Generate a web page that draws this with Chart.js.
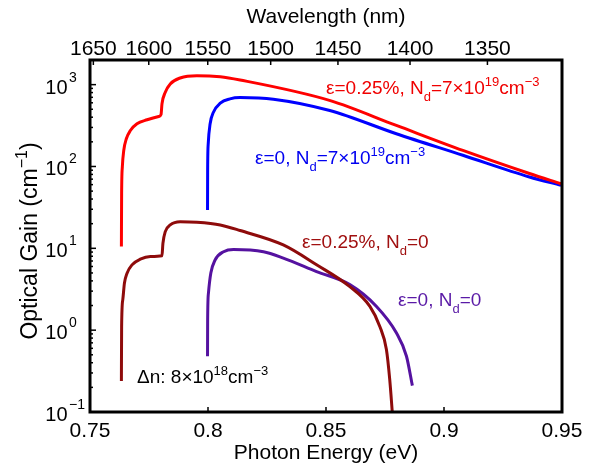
<!DOCTYPE html>
<html lang="en">
<head>
<meta charset="UTF-8">
<title>Optical Gain vs Photon Energy</title>
<style>
  html, body { margin: 0; padding: 0; background: #fff; }
  #wrap { width: 600px; height: 470px; }
</style>
</head>
<body>
<div id="wrap"><canvas id="gain" width="600" height="470"></canvas></div>
<script src="https://cdn.jsdelivr.net/npm/chart.js"></script>
<script>
// photon energy (eV) / optical gain (cm^-1)
const energyStrainDoped = [0.7633, 0.7634, 0.7637, 0.7643, 0.7654, 0.7671, 0.7699, 0.7742, 0.7791, 0.7801, 0.7805, 0.7819, 0.7840, 0.7882, 0.7953, 0.8052, 0.8136, 0.8518, 0.8798, 0.9080, 0.9362, 0.9496];
const gainStrainDoped   = [10.5, 47, 98.6, 157, 218, 275, 333, 372, 408, 431, 582, 807, 1019, 1206, 1288, 1250, 1140, 638, 317, 157, 82, 61.5];

const energyDoped = [0.7998, 0.79985, 0.8001, 0.8009, 0.8023, 0.8052, 0.8093, 0.8136, 0.8277, 0.8516, 0.8798, 0.9080, 0.9362, 0.9496];
const gainDoped   = [29.3, 90, 190, 333, 460, 593, 670, 695, 665, 483, 251, 137, 74.5, 59];

const energyStrain = [0.7633, 0.7634, 0.7639, 0.7646, 0.7657, 0.7678, 0.7713, 0.7756, 0.7805, 0.7809, 0.7819, 0.7840, 0.7882, 0.7953, 0.8052, 0.8136, 0.8319, 0.8460, 0.8601, 0.8686, 0.8728, 0.8756, 0.8770, 0.8782];
const gainStrain   = [0.239, 1.11, 2.36, 3.76, 4.97, 6.28, 7.36, 7.93, 8.1, 11.5, 16, 19.3, 21.1, 20.8, 19.3, 16.5, 11, 6.3, 3.4, 1.95, 1.11, 0.58, 0.25, 0.09];

const energyUndoped = [0.7998, 0.79985, 0.8002, 0.8012, 0.8030, 0.8066, 0.8108, 0.8235, 0.8319, 0.8460, 0.8601, 0.8714, 0.8798, 0.8841, 0.8866];
const gainUndoped   = [0.48, 1.35, 2.85, 4.98, 7.2, 9.1, 9.7, 9.1, 7.6, 5.2, 3.6, 1.95, 0.93, 0.48, 0.21];

const energyTicks = [0.75, 0.8, 0.85, 0.9, 0.95];
const wavelengthTicks = [1650, 1600, 1550, 1500, 1450, 1400, 1350];
const gainDecades = [0.1, 1, 10, 100, 1000];
const HC = 1239.84; // eV*nm

const FONT = '"Liberation Sans", Arial, Helvetica, sans-serif';

function series(xs, ys, color) {
    return {
        data: xs.map((e, i) => ({ x: e, y: ys[i] })),
        borderColor: color,
        borderWidth: 3,
        pointRadius: 0,
        cubicInterpolationMode: 'monotone',
        fill: false,
        clip: 0
    };
}

// draws text with sub/superscript pieces, returns end x
function richText(ctx, x, y, parts, size, color, dry) {
    ctx.fillStyle = color;
    ctx.textBaseline = 'alphabetic';
    ctx.textAlign = 'left';
    parts.forEach(p => {
        const kind = p[1];
        const fs = kind ? Math.round(size * 0.68) : size;
        const dy = kind === 'sup' ? -size * 0.42 : kind === 'sub' ? size * 0.38 : 0;
        ctx.font = fs + 'px ' + FONT;
        if (!dry) ctx.fillText(p[0], x, y + dy);
        x += ctx.measureText(p[0]).width;
    });
    return x;
}

const curveLabels = [
    { x: 326, y: 93.5, color: '#f00000', parts: [['ε=0.25%, N'], ['d', 'sub'], ['=7×10'], ['19', 'sup'], ['cm'], ['−3', 'sup']] },
    { x: 255, y: 163.5, color: '#0000f0', parts: [['ε=0, N'], ['d', 'sub'], ['=7×10'], ['19', 'sup'], ['cm'], ['−3', 'sup']] },
    { x: 302, y: 248, color: '#a01010', parts: [['ε=0.25%, N'], ['d', 'sub'], ['=0']] },
    { x: 398, y: 306, color: '#5a1aa6', parts: [['ε=0, N'], ['d', 'sub'], ['=0']] },
    { x: 137, y: 382.5, color: '#000000', parts: [['Δn: 8×10'], ['18', 'sup'], ['cm'], ['−3', 'sup']] }
];

const decorations = {
    id: 'decorations',
    afterDatasetsDraw(chart) {
        const { ctx, chartArea: a, scales } = chart;
        const xs = scales.x, ys = scales.y;
        ctx.save();
        ctx.strokeStyle = '#000';
        ctx.lineCap = 'butt';

        const seg = (x1, y1, x2, y2) => { ctx.beginPath(); ctx.moveTo(x1, y1); ctx.lineTo(x2, y2); ctx.stroke(); };

        ctx.lineWidth = 1.5;
        // bottom energy ticks, pointing in
        energyTicks.forEach(e => { const px = xs.getPixelForValue(e); seg(px, a.bottom, px, a.bottom - 5); });
        // top wavelength ticks
        wavelengthTicks.forEach(w => { const px = xs.getPixelForValue(HC / w); seg(px, a.top, px, a.top + 5); });
        // left log ticks, major and minor
        gainDecades.forEach(d => {
            const py = ys.getPixelForValue(d);
            seg(a.left, py, a.left + 6, py);
            for (let k = 2; k <= 9; k++) {
                const v = d * k;
                if (v > ys.max) break;
                const pm = ys.getPixelForValue(v);
                seg(a.left, pm, a.left + 3, pm);
            }
        });

        // frame
        ctx.lineWidth = 3;
        ctx.strokeRect(a.left, a.top, a.right - a.left, a.bottom - a.top);

        // y tick labels 10^n
        ctx.fillStyle = '#000';
        gainDecades.forEach(d => {
            const py = ys.getPixelForValue(d);
            const n = Math.round(Math.log10(d));
            ctx.textBaseline = 'alphabetic';
            ctx.font = '20px ' + FONT;
            ctx.textAlign = 'right';
            ctx.fillText('10', 67.5, py + 9);
            ctx.font = '14px ' + FONT;
            ctx.textAlign = 'left';
            ctx.fillText(n < 0 ? '−' + (-n) : String(n), 69, py - 3);
        });

        // y axis title
        const title = [['Optical Gain (cm'], ['−1', 'sup'], [')']];
        ctx.save();
        ctx.translate(37, 241);
        ctx.rotate(-Math.PI / 2);
        const w = richText(ctx, 0, 0, title, 23, '#000', true);
        richText(ctx, -w / 2, 0, title, 23, '#000');
        ctx.restore();

        // curve labels
        curveLabels.forEach(l => richText(ctx, l.x, l.y, l.parts, 19, l.color));
        ctx.restore();
    }
};

new Chart(document.getElementById('gain'), {
    type: 'line',
    data: {
        datasets: [
            series(energyStrainDoped, gainStrainDoped, '#ff0000'),
            series(energyDoped, gainDoped, '#0000ff'),
            series(energyStrain, gainStrain, '#8e0b0b'),
            series(energyUndoped, gainUndoped, '#5512a0')
        ]
    },
    options: {
        responsive: false,
        animation: false,
        layout: { padding: { left: 90, right: 38, top: 0, bottom: 0 } },
        plugins: { legend: { display: false }, tooltip: { enabled: false } },
        scales: {
            x: {
                type: 'linear',
                position: 'bottom',
                min: 0.75,
                max: 0.95,
                afterBuildTicks: s => { s.ticks = energyTicks.map(v => ({ value: v })); },
                afterFit: s => { s.height = 58; },
                ticks: {
                    autoSkip: false, maxRotation: 0, padding: 9, color: '#000',
                    font: { family: FONT, size: 21, lineHeight: 1 },
                    callback: v => String(Math.round(v * 100) / 100)
                },
                grid: { display: false, drawTicks: false },
                border: { display: false },
                title: {
                    display: true, text: 'Photon Energy (eV)', color: '#000',
                    font: { family: FONT, size: 21, lineHeight: 1 },
                    padding: { top: 0, bottom: 6 }
                }
            },
            x2: {
                type: 'linear',
                position: 'top',
                min: 0.75,
                max: 0.95,
                afterBuildTicks: s => { s.ticks = wavelengthTicks.map(w => ({ value: HC / w })); },
                afterFit: s => { s.height = 60; },
                ticks: {
                    autoSkip: false, maxRotation: 0, padding: 0, color: '#000',
                    font: { family: FONT, size: 21, lineHeight: 1 },
                    callback: v => String(Math.round(HC / v))
                },
                grid: { display: false, drawTicks: false },
                border: { display: false },
                title: {
                    display: true, text: 'Wavelength (nm)', color: '#000',
                    font: { family: FONT, size: 21, lineHeight: 1 },
                    padding: { top: 7, bottom: 0 }
                }
            },
            y: {
                type: 'logarithmic',
                min: 0.1,
                max: 2000,
                display: false
            }
        }
    },
    plugins: [decorations]
});
</script>
</body>
</html>
